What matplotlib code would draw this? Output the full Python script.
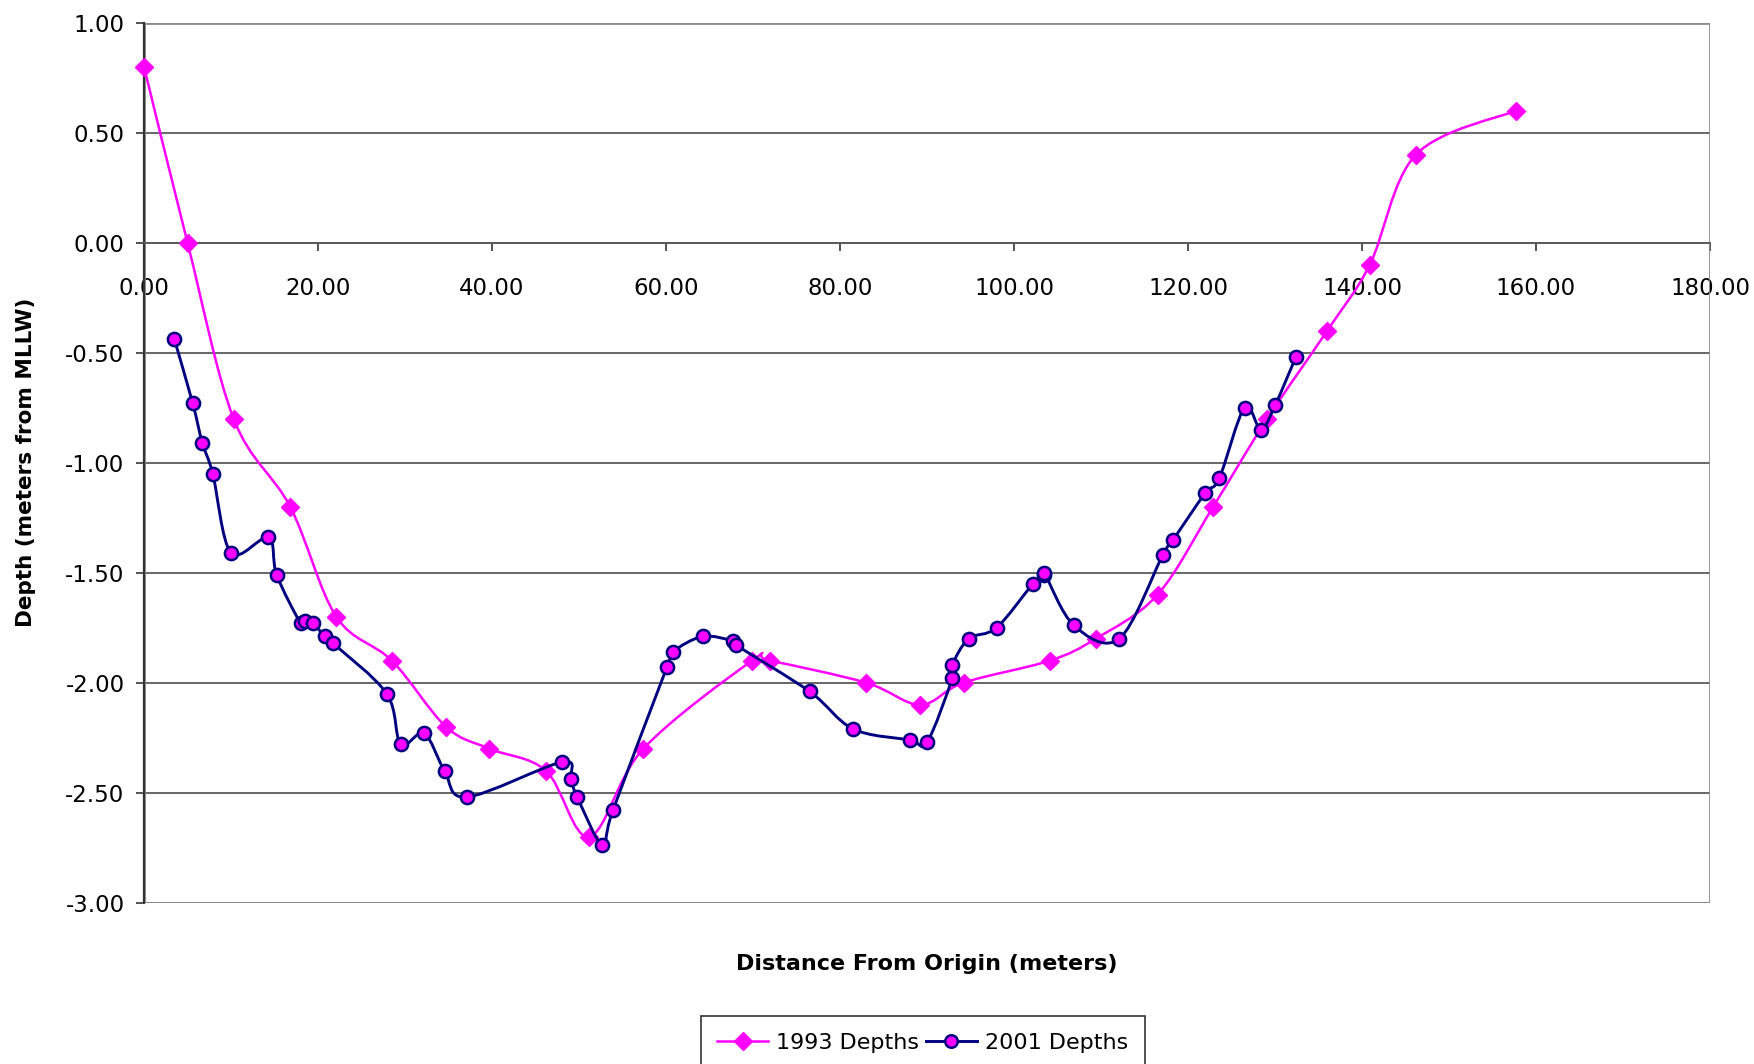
import matplotlib
matplotlib.use("Agg")
import matplotlib.pyplot as plt
import numpy as np
from matplotlib.path import Path
from matplotlib.patches import PathPatch, Rectangle
from matplotlib.lines import Line2D
from matplotlib.ticker import MultipleLocator, FormatStrFormatter

plt.rcParams["font.family"] = ["DejaVu Sans"]
plt.rcParams["axes.unicode_minus"] = False

# 1993 survey
dist_1993 = [0.0, 5.0, 10.3, 16.8, 22.1, 28.5, 34.7, 39.7, 46.2, 51.2, 57.4, 69.9,
             71.9, 83.0, 89.2, 94.2, 104.1, 109.4, 116.5, 122.9, 129.1, 136.0,
             140.9, 146.2, 157.7]
depth_1993 = [0.80, 0.00, -0.80, -1.20, -1.70, -1.90, -2.20, -2.30, -2.40, -2.70,
              -2.30, -1.90, -1.90, -2.00, -2.10, -2.00, -1.90, -1.80, -1.60, -1.20,
              -0.80, -0.40, -0.10, 0.40, 0.60]

# 2001 survey
dist_2001 = [3.5, 5.6, 6.7, 7.9, 10.0, 14.3, 15.25, 18.0, 18.5, 19.4, 20.8, 21.7,
             27.9, 29.5, 32.2, 34.55, 37.1, 48.1, 49.05, 49.8, 52.7, 53.9, 60.1,
             60.8, 64.2, 67.7, 68.1, 76.5, 81.5, 88.0, 90.0, 92.9, 92.9, 94.8,
             98.0, 102.2, 103.5, 103.5, 106.9, 112.1, 117.1, 118.3, 121.95, 123.6,
             126.5, 128.4, 130.0, 132.4]
depth_2001 = [-0.44, -0.73, -0.91, -1.05, -1.41, -1.34, -1.51, -1.73, -1.72, -1.73,
              -1.79, -1.82, -2.05, -2.28, -2.23, -2.40, -2.52, -2.36, -2.44, -2.52,
              -2.74, -2.58, -1.93, -1.86, -1.79, -1.81, -1.83, -2.04, -2.21, -2.26,
              -2.27, -1.98, -1.92, -1.80, -1.75, -1.55, -1.51, -1.50, -1.74, -1.80,
              -1.42, -1.35, -1.14, -1.07, -0.75, -0.85, -0.74, -0.52]

PINK = "#ff00ff"
NAVY = "#000080"


def smooth_path(xs, ys):
    # Bezier curve through the points, like a spreadsheet "smoothed line"
    pts = np.column_stack([xs, ys])
    verts = [pts[0]]
    codes = [Path.MOVETO]
    n = len(pts)
    for i in range(n - 1):
        p0 = pts[i - 1] if i > 0 else pts[i]
        p1, p2 = pts[i], pts[i + 1]
        p3 = pts[i + 2] if i + 2 < n else pts[i + 1]
        verts += [p1 + (p2 - p0) / 6, p2 - (p3 - p1) / 6, p2]
        codes += [Path.CURVE4] * 3
    return Path(verts, codes)


fig = plt.figure(figsize=(17.54, 10.64), dpi=100)
ax = fig.add_axes([0.0821, 0.1516, 0.8928, 0.8271])

ax.set_xlim(0, 180)
ax.set_ylim(-3, 1)

ax.yaxis.set_major_locator(MultipleLocator(0.5))
ax.xaxis.set_major_locator(MultipleLocator(20))
ax.yaxis.set_major_formatter(FormatStrFormatter("%.2f"))
ax.xaxis.set_major_formatter(FormatStrFormatter("%.2f"))
ax.grid(axis="y", color="#5a5a5a", linewidth=1.3)
ax.set_axisbelow(True)

# plot-area border
ax.add_patch(Rectangle((0, 0), 1, 1, transform=ax.transAxes, fill=False,
                       edgecolor="#8c8c8c", linewidth=2, zorder=1))
for side in ("top", "right"):
    ax.spines[side].set_visible(False)
ax.spines["bottom"].set_position(("data", 0))
ax.spines["bottom"].set_color("#5a5a5a")
ax.spines["bottom"].set_linewidth(1.3)
ax.spines["left"].set_color("#333333")
ax.spines["left"].set_linewidth(1.6)

ax.tick_params(axis="y", direction="out", length=6, width=1.2, color="#333333",
               labelsize=16.5, pad=8)
ax.tick_params(axis="x", direction="out", length=6, width=1.2, color="#333333",
               labelsize=16.5, pad=19)

# 1993
ax.add_patch(PathPatch(smooth_path(dist_1993, depth_1993), fill=False,
                       edgecolor=PINK, linewidth=1.8, zorder=3))
ax.plot(dist_1993, depth_1993, linestyle="none", marker="D", markersize=9,
        color=PINK, markeredgecolor=PINK, zorder=4, clip_on=False)

# 2001
ax.add_patch(PathPatch(smooth_path(dist_2001, depth_2001), fill=False,
                       edgecolor=NAVY, linewidth=2.1, zorder=5))
ax.plot(dist_2001, depth_2001, linestyle="none", marker="o", markersize=9.5,
        markerfacecolor=PINK, markeredgecolor=NAVY, markeredgewidth=1.8,
        zorder=6, clip_on=False)

ax.set_xlabel("Distance From Origin (meters)", fontsize=16, fontweight="bold")
ax.xaxis.set_label_coords(0.5, -0.058)
ax.set_ylabel("Depth (meters from MLLW)", fontsize=15.5, fontweight="bold")
ax.yaxis.set_label_coords(-0.069, 0.5)

handles = [
    Line2D([], [], color=PINK, linewidth=1.8, marker="D", markersize=9,
           markeredgecolor=PINK),
    Line2D([], [], color=NAVY, linewidth=2.1, marker="o", markersize=9,
           markerfacecolor=PINK, markeredgecolor=NAVY, markeredgewidth=1.8),
]
leg = fig.legend(handles, ["1993 Depths", "2001 Depths"], ncol=2,
                 loc="upper center", bbox_to_anchor=(0.526, 1 - 1016 / 1064),
                 borderaxespad=0, fontsize=16, frameon=True, fancybox=False,
                 handlelength=2.3, columnspacing=0.3, handletextpad=0.35,
                 borderpad=0.75)
leg.get_frame().set_edgecolor("black")
leg.get_frame().set_linewidth(1.2)

fig.savefig("out.png", dpi=100)
